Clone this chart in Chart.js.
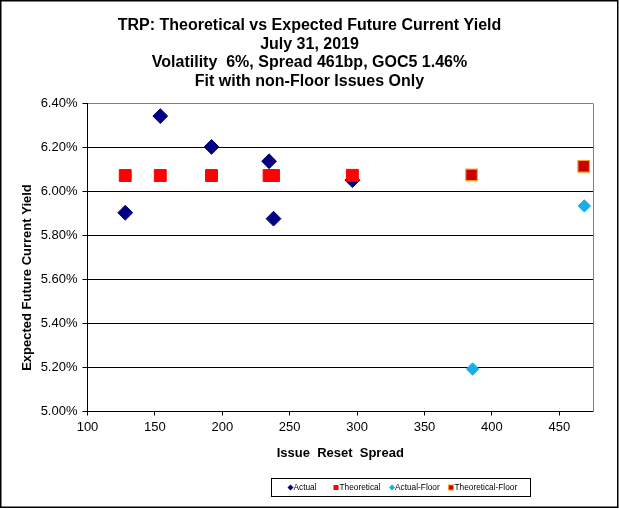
<!DOCTYPE html>
<html>
<head>
<meta charset="utf-8">
<script src="https://cdn.jsdelivr.net/npm/chart.js@4/dist/chart.umd.min.js"></script>
<style>
  html, body { margin: 0; padding: 0; background: #fff; }
  #wrap { width: 619px; height: 509px; position: relative; }
</style>
</head>
<body>
<div id="wrap"><canvas id="c" width="619" height="509"></canvas></div>
<script>
// ---- data ----
const titleLines = [
  'TRP: Theoretical vs Expected Future Current Yield',
  'July 31, 2019',
  'Volatility  6%, Spread 461bp, GOC5 1.46%',
  'Fit with non-Floor Issues Only'
];
const xAxisTitle = 'Issue  Reset  Spread';
const yAxisTitle = 'Expected Future Current Yield';
const seriesNames = ['Actual', 'Theoretical', 'Actual-Floor', 'Theoretical-Floor'];

const spreadNonFloor = [128, 154, 192, 234.7, 238, 296.5];
const actualYield = [5.903, 6.342, 6.202, 6.137, 5.876, 6.051];
const theoreticalYield = [6.072, 6.072, 6.072, 6.072, 6.072, 6.073];

const spreadFloorActual = [385.7, 468.6];
const actualFloorYield = [5.193, 5.934];
const spreadFloorTheo = [384.9, 468.1];
const theoreticalFloorYield = [6.075, 6.114];

const xMin = 100, xMax = 475, xStep = 50;
const yMin = 5.0, yMax = 6.4, yStep = 0.2;

function pts(xs, ys) { return xs.map((x, i) => ({ x: x, y: ys[i] })); }

const FONT = "'Liberation Sans', Arial, sans-serif";
const colors = {
  actual: '#000080',
  theo: '#FF0000',
  actFloor: '#1AAEE8',
  theoFloorFill: '#C80000',
  theoFloorBorder: '#FFA020'
};

const datasets = [
  { label: seriesNames[0], data: pts(spreadNonFloor, actualYield), pointStyle: 'rectRot',
    pointRadius: 7.4, pointHoverRadius: 7.4, backgroundColor: colors.actual, borderColor: colors.actual,
    pointBorderWidth: 1, order: 2 },
  { label: seriesNames[1], data: pts(spreadNonFloor, theoreticalYield), pointStyle: 'rect',
    pointRadius: 8.4, pointHoverRadius: 8.4, backgroundColor: colors.theo, borderColor: colors.theo,
    pointBorderWidth: 1, order: 1 },
  { label: seriesNames[2], data: pts(spreadFloorActual, actualFloorYield), pointStyle: 'rectRot',
    pointRadius: 6.2, pointHoverRadius: 6.2, backgroundColor: colors.actFloor, borderColor: colors.actFloor,
    pointBorderWidth: 1, order: 2 },
  { label: seriesNames[3], data: pts(spreadFloorTheo, theoreticalFloorYield), pointStyle: 'rect',
    pointRadius: 8.2, pointHoverRadius: 8.2, backgroundColor: colors.theoFloorFill, borderColor: colors.theoFloorBorder,
    pointBorderWidth: 1.2, order: 1 }
];

const decorPlugin = {
  id: 'decor',
  afterDraw(chart) {
    const ctx = chart.ctx;
    const a = chart.chartArea;
    ctx.save();
    // plot area right border (gray)
    ctx.strokeStyle = '#808080';
    ctx.lineWidth = 1;
    ctx.beginPath();
    ctx.moveTo(Math.round(a.right) + 0.5, Math.round(a.top) + 0.5);
    ctx.lineTo(Math.round(a.right) + 0.5, Math.round(a.bottom));
    ctx.stroke();
    // y axis title
    ctx.fillStyle = '#000';
    ctx.font = 'bold 13px ' + FONT;
    ctx.textAlign = 'center';
    ctx.textBaseline = 'middle';
    ctx.translate(27, 277.5);
    ctx.rotate(-Math.PI / 2);
    ctx.fillText(yAxisTitle, 0, 0);
    ctx.restore();

    // legend box
    ctx.save();
    const lx = 271.5, ly = 478.5, lw = 259, lh = 18;
    ctx.strokeStyle = '#000';
    ctx.lineWidth = 1;
    ctx.strokeRect(lx, ly, lw, lh);
    const cy = ly + lh / 2;
    const items = [
      { mx: 290.5, tx: 293.5, ds: 0 },
      { mx: 336, tx: 339.5, ds: 1 },
      { mx: 392, tx: 395, ds: 2 },
      { mx: 451, tx: 454.5, ds: 3 }
    ];
    ctx.font = '8.3px ' + FONT;
    ctx.textBaseline = 'middle';
    ctx.textAlign = 'left';
    items.forEach(it => {
      const d = datasets[it.ds];
      ctx.fillStyle = d.backgroundColor;
      ctx.strokeStyle = d.borderColor;
      ctx.lineWidth = 1;
      if (d.pointStyle === 'rectRot') {
        ctx.beginPath();
        ctx.moveTo(it.mx - 3, cy); ctx.lineTo(it.mx, cy - 3);
        ctx.lineTo(it.mx + 3, cy); ctx.lineTo(it.mx, cy + 3);
        ctx.closePath(); ctx.fill();
      } else {
        ctx.fillRect(it.mx - 2.5, cy - 2.5, 5, 5);
        if (it.ds === 3) { ctx.strokeRect(it.mx - 2.5, cy - 2.5, 5, 5); }
      }
      ctx.fillStyle = '#000';
      ctx.fillText(d.label, it.tx, cy + 0.5);
    });
    ctx.restore();

    // outer frame
    ctx.save();
    ctx.strokeStyle = '#000';
    ctx.lineWidth = 1.5;
    ctx.strokeRect(0.75, 0.75, 617, 506.5);
    ctx.restore();
  }
};

new Chart(document.getElementById('c'), {
  type: 'scatter',
  data: { datasets: datasets },
  options: {
    responsive: false,
    animation: false,
    devicePixelRatio: 1,
    layout: { padding: 0 },
    plugins: {
      legend: { display: false },
      tooltip: { enabled: false },
      title: {
        display: true,
        text: titleLines,
        color: '#000',
        font: { family: FONT, size: 16, weight: 'bold', lineHeight: 1.16 },
        padding: { top: 16.4, bottom: 12.7 }
      }
    },
    scales: {
      x: {
        type: 'linear',
        position: 'bottom',
        min: xMin, max: xMax,
        afterFit(s) { s.height = 97.5; },
        ticks: {
          stepSize: xStep, includeBounds: false, color: '#000', padding: 4,
          font: { family: FONT, size: 13 }, maxRotation: 0
        },
        grid: { drawOnChartArea: false, drawTicks: true, tickLength: 4, color: '#000', tickColor: '#000' },
        border: { display: true, color: '#000', width: 1 },
        title: {
          display: true, text: xAxisTitle, color: '#000',
          font: { family: FONT, size: 13, weight: 'bold', lineHeight: 1.2 },
          padding: { top: 0, bottom: 48.2 }
        }
      },
      y: {
        type: 'linear',
        position: 'left',
        min: yMin, max: yMax,
        afterFit(s) { s.width = 87.5; },
        ticks: {
          stepSize: yStep, color: '#000', padding: 5,
          font: { family: FONT, size: 13 },
          callback: v => v.toFixed(2) + '%'
        },
        grid: {
          drawOnChartArea: true, drawTicks: true, tickLength: 5,
          color: c => (Math.abs(c.tick.value - yMax) < 1e-9 ? '#808080' : '#000'),
          tickColor: '#000'
        },
        border: { display: true, color: '#000', width: 1 }
      },
      yR: {
        type: 'linear',
        position: 'right',
        display: true,
        afterFit(s) { s.width = 26; },
        ticks: { display: false },
        grid: { display: false, drawTicks: false },
        border: { display: false }
      }
    }
  },
  plugins: [decorPlugin]
});
</script>
</body>
</html>
